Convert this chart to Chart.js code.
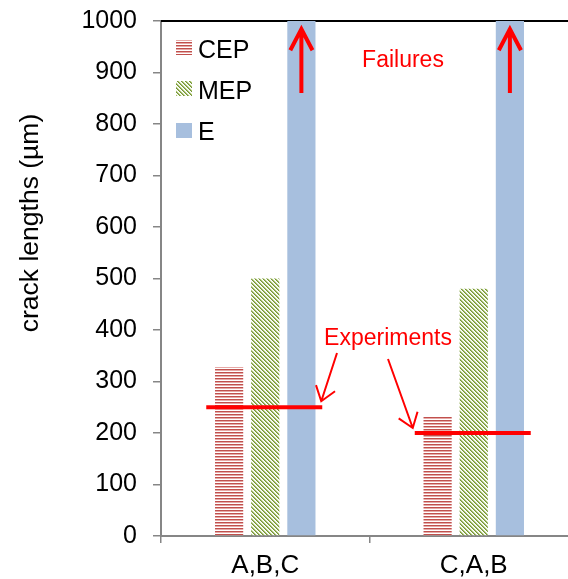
<!DOCTYPE html>
<html>
<head>
<meta charset="utf-8">
<script src="https://cdn.jsdelivr.net/npm/chart.js@4.4.1/dist/chart.umd.min.js"></script>
<style>
  body { margin: 0; overflow: hidden; background: #fff; }
  #wrap { width: 580px; height: 579px; }
</style>
</head>
<body>
<div id="wrap"><canvas id="crackChart" width="580" height="579"></canvas></div>
<script>
// Chart data
const categories = ['A,B,C', 'C,A,B'];
const seriesNames = ['CEP', 'MEP', 'E'];
const cepValues = [328, 232];
const mepValues = [500, 480];
const eValues = [1000, 1000];          // failures - bar runs to the top
const experimentValues = [250, 200];
const yMin = 0;
const yMax = 1000;
const yStep = 100;
const yTitle = 'crack lengths (µm)';
const failureLabel = 'Failures';
const experimentLabel = 'Experiments';

const FONT = '"Liberation Sans", Arial, sans-serif';
const AXIS_GREY = '#868686';
const RED = '#ff0000';

// Fill patterns (Excel style)
function makePattern(w, h, colorAt) {
    const c = document.createElement('canvas');
    c.width = w;
    c.height = h;
    const g = c.getContext('2d');
    for (let y = 0; y < h; y++) {
        for (let x = 0; x < w; x++) {
            g.fillStyle = colorAt(x, y);
            g.fillRect(x, y, 1, 1);
        }
    }
    return g.createPattern(c, 'repeat');
}

const cepFill = makePattern(1, 3, (x, y) => ['#c0504d', '#e6a9a7', '#ffffff'][y]);
const mepFill = makePattern(4, 4, (x, y) => ['#76923c', '#a4c163', '#eef3e2', '#ffffff'][(x - y + 8) % 4]);
const eFill = '#a7bfde';
const fills = [cepFill, mepFill, eFill];

function drawArrow(ctx, x1, y1, x2, y2, headLen, halfAngle, width) {
    const ang = Math.atan2(y2 - y1, x2 - x1);
    ctx.save();
    ctx.strokeStyle = RED;
    ctx.lineWidth = width;
    ctx.lineCap = 'butt';
    ctx.beginPath();
    ctx.moveTo(x1, y1);
    ctx.lineTo(x2, y2);
    ctx.moveTo(x2 - headLen * Math.cos(ang - halfAngle), y2 - headLen * Math.sin(ang - halfAngle));
    ctx.lineTo(x2, y2);
    ctx.lineTo(x2 - headLen * Math.cos(ang + halfAngle), y2 - headLen * Math.sin(ang + halfAngle));
    ctx.stroke();
    ctx.restore();
}

const overlayPlugin = {
    id: 'overlay',
    beforeDatasetsDraw(chart) {
        const ctx = chart.ctx;
        const area = chart.chartArea;
        // plot area top border
        ctx.save();
        ctx.strokeStyle = '#000';
        ctx.lineWidth = 2;
        ctx.beginPath();
        ctx.moveTo(area.left, area.top);
        ctx.lineTo(area.right, area.top);
        ctx.stroke();
        ctx.restore();
    },
    afterDatasetsDraw(chart) {
        const ctx = chart.ctx;
        const area = chart.chartArea;
        const xs = chart.scales.x;
        const ys = chart.scales.y;

        // experiment lines
        const ends = [];
        ctx.save();
        ctx.strokeStyle = RED;
        ctx.lineWidth = 4;
        experimentValues.forEach((v, i) => {
            const cx = xs.getPixelForValue(i);
            const py = ys.getPixelForValue(v);
            ctx.beginPath();
            ctx.moveTo(cx - 59, py);
            ctx.lineTo(cx + 57, py);
            ctx.stroke();
            ends.push({ left: cx - 59, right: cx + 57, y: py });
        });
        ctx.restore();

        // experiment label + arrows
        ctx.save();
        ctx.fillStyle = RED;
        ctx.font = '23px ' + FONT;
        ctx.textAlign = 'center';
        ctx.textBaseline = 'alphabetic';
        ctx.fillText(experimentLabel, 388, 345);
        ctx.restore();
        drawArrow(ctx, 337, 353, ends[0].right - 1, ends[0].y - 6, 17, 0.63, 2);
        drawArrow(ctx, 388, 359, ends[1].left - 2, ends[1].y - 5, 17, 0.63, 2);

        // failure arrows inside the E bars
        const eMeta = chart.getDatasetMeta(2);
        eMeta.data.forEach(bar => {
            drawArrow(ctx, bar.x, area.top + 72, bar.x, area.top + 8, 24, 0.48, 4);
        });
        ctx.save();
        ctx.fillStyle = RED;
        ctx.font = '23px ' + FONT;
        ctx.textAlign = 'center';
        ctx.fillText(failureLabel, 403, 67);
        ctx.restore();

        // legend (inside plot, top-left)
        const rows = [{ box: 40, base: 58 }, { box: 81, base: 99 }, { box: 123, base: 140 }];
        ctx.save();
        ctx.font = '25px ' + FONT;
        ctx.textAlign = 'left';
        seriesNames.forEach((name, i) => {
            ctx.fillStyle = fills[i];
            ctx.fillRect(176, rows[i].box, 16, 15);
            ctx.fillStyle = '#000';
            ctx.fillText(name, 198, rows[i].base);
        });
        ctx.restore();

        // y axis title
        ctx.save();
        ctx.translate(31, 223);
        ctx.rotate(-Math.PI / 2);
        ctx.font = '26.5px ' + FONT;
        ctx.fillStyle = '#000';
        ctx.textAlign = 'center';
        ctx.textBaseline = 'middle';
        ctx.fillText(yTitle, 0, 0);
        ctx.restore();
    }
};

const ctx = document.getElementById('crackChart').getContext('2d');
new Chart(ctx, {
    type: 'bar',
    data: {
        labels: categories,
        datasets: [
            { label: seriesNames[0], data: cepValues, backgroundColor: cepFill },
            { label: seriesNames[1], data: mepValues, backgroundColor: mepFill },
            { label: seriesNames[2], data: eValues, backgroundColor: eFill }
        ]
    },
    options: {
        responsive: false,
        animation: false,
        categoryPercentage: 0.52,
        barPercentage: 0.78,
        layout: { padding: { top: 21, right: 2, bottom: 0, left: 0 } },
        plugins: {
            legend: { display: false },
            tooltip: { enabled: false }
        },
        scales: {
            x: {
                afterFit(scale) {
                    scale.height = 43;
                    scale.paddingLeft = 0;
                    scale.paddingRight = 0;
                },
                grid: {
                    offset: true,
                    drawOnChartArea: false,
                    tickLength: 7,
                    color: AXIS_GREY,
                    lineWidth: 1.5
                },
                border: { color: AXIS_GREY, width: 2 },
                ticks: {
                    color: '#000',
                    padding: 7,
                    font: { family: FONT, size: 26 }
                }
            },
            y: {
                min: yMin,
                max: yMax,
                afterFit(scale) {
                    scale.width = 161;
                    scale.paddingTop = 0;
                    scale.paddingBottom = 0;
                },
                grid: {
                    drawOnChartArea: false,
                    tickLength: 8,
                    color: AXIS_GREY,
                    lineWidth: 1.5
                },
                border: { color: AXIS_GREY, width: 2 },
                ticks: {
                    stepSize: yStep,
                    color: '#000',
                    padding: 16,
                    font: { family: FONT, size: 25 },
                    callback: v => String(v)
                }
            }
        }
    },
    plugins: [overlayPlugin]
});
</script>
</body>
</html>
